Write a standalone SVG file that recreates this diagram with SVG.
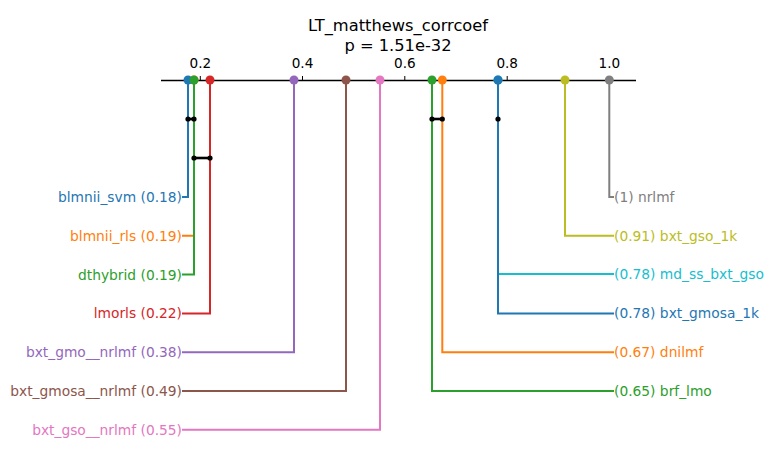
<svg xmlns="http://www.w3.org/2000/svg" width="774" height="462" viewBox="0 0 774 462">
<style>
text{font-family:"DejaVu Sans","Liberation Sans",sans-serif;}
.t{font-size:16.3px;fill:#000;text-anchor:middle;}
.tk{font-size:13.6px;fill:#000;text-anchor:middle;}
.l{font-size:13.8px;text-anchor:end;}
.r{font-size:13.8px;text-anchor:start;}
.ln{fill:none;stroke-width:2;}
.cd{stroke:#000;stroke-width:2.6;fill:none;}
</style>
<rect width="774" height="462" fill="#fff"/>
<g id="title">
<text class="t" x="398" y="31">LT_matthews_corrcoef</text>
<text class="t" x="398" y="51">p = 1.51e-32</text>
</g>
<g id="axis">
<line x1="161" y1="80.5" x2="636" y2="80.5" stroke="#000" stroke-width="1.3"/>
<g stroke="#000" stroke-width="1">
<line x1="200.3" y1="76" x2="200.3" y2="80"/>
<line x1="302.5" y1="76" x2="302.5" y2="80"/>
<line x1="404.8" y1="76" x2="404.8" y2="80"/>
<line x1="507.2" y1="76" x2="507.2" y2="80"/>
<line x1="609.4" y1="76" x2="609.4" y2="80"/>
</g>
<text class="tk" x="200.3" y="68">0.2</text>
<text class="tk" x="302.5" y="68">0.4</text>
<text class="tk" x="404.8" y="68">0.6</text>
<text class="tk" x="507.2" y="68">0.8</text>
<text class="tk" x="609.4" y="68">1.0</text>
</g>
<g id="md_ss_bxt_gso">
<polyline class="ln" stroke="#17becf" points="498,80 498,274 614,274"/>
<circle cx="498" cy="80" r="4.5" fill="#17becf"/>
<text class="r" x="614" y="279" fill="#17becf">(0.78) md_ss_bxt_gso</text>
</g>
<g id="blmnii_rls">
<polyline class="ln" stroke="#ff7f0e" points="194,80 194,235.8 182,235.8"/>
<circle cx="194" cy="80" r="4.5" fill="#ff7f0e"/>
<text class="l" x="182" y="240.8" fill="#ff7f0e">blmnii_rls (0.19)</text>
</g>
<g id="blmnii_svm">
<polyline class="ln" stroke="#1f77b4" points="188,80 188,196.9 182,196.9"/>
<circle cx="188" cy="80" r="4.5" fill="#1f77b4"/>
<text class="l" x="182" y="201.9" fill="#1f77b4">blmnii_svm (0.18)</text>
</g>
<g id="dthybrid">
<polyline class="ln" stroke="#2ca02c" points="194,80 194,274.6 182,274.6"/>
<circle cx="194" cy="80" r="4.5" fill="#2ca02c"/>
<text class="l" x="182" y="279.6" fill="#2ca02c">dthybrid (0.19)</text>
</g>
<g id="lmorls">
<polyline class="ln" stroke="#d62728" points="210,80 210,313.4 182,313.4"/>
<circle cx="210" cy="80" r="4.5" fill="#d62728"/>
<text class="l" x="182" y="318.4" fill="#d62728">lmorls (0.22)</text>
</g>
<g id="bxt_gmo__nrlmf">
<polyline class="ln" stroke="#9467bd" points="294,80 294,352.2 182,352.2"/>
<circle cx="294" cy="80" r="4.5" fill="#9467bd"/>
<text class="l" x="182" y="357.2" fill="#9467bd">bxt_gmo__nrlmf (0.38)</text>
</g>
<g id="bxt_gmosa__nrlmf">
<polyline class="ln" stroke="#8c564b" points="346,80 346,391 182,391"/>
<circle cx="346" cy="80" r="4.5" fill="#8c564b"/>
<text class="l" x="182" y="396" fill="#8c564b">bxt_gmosa__nrlmf (0.49)</text>
</g>
<g id="bxt_gso__nrlmf">
<polyline class="ln" stroke="#e377c2" points="380,80 380,429.8 182,429.8"/>
<circle cx="380" cy="80" r="4.5" fill="#e377c2"/>
<text class="l" x="182" y="434.8" fill="#e377c2">bxt_gso__nrlmf (0.55)</text>
</g>
<g id="brf_lmo">
<polyline class="ln" stroke="#2ca02c" points="432,80 432,391 614,391"/>
<circle cx="432" cy="80" r="4.5" fill="#2ca02c"/>
<text class="r" x="614" y="396" fill="#2ca02c">(0.65) brf_lmo</text>
</g>
<g id="dnilmf">
<polyline class="ln" stroke="#ff7f0e" points="442.3,80 442.3,352.2 614,352.2"/>
<circle cx="442.3" cy="80" r="4.5" fill="#ff7f0e"/>
<text class="r" x="614" y="357.2" fill="#ff7f0e">(0.67) dnilmf</text>
</g>
<g id="bxt_gmosa_1k">
<polyline class="ln" stroke="#1f77b4" points="498,80 498,313.4 614,313.4"/>
<circle cx="498" cy="80" r="4.5" fill="#1f77b4"/>
<text class="r" x="614" y="318.4" fill="#1f77b4">(0.78) bxt_gmosa_1k</text>
</g>
<g id="bxt_gso_1k">
<polyline class="ln" stroke="#bcbd22" points="565,80 565,235.8 614,235.8"/>
<circle cx="565" cy="80" r="4.5" fill="#bcbd22"/>
<text class="r" x="614" y="240.8" fill="#bcbd22">(0.91) bxt_gso_1k</text>
</g>
<g id="nrlmf">
<polyline class="ln" stroke="#7f7f7f" points="609.3,80 609.3,196.9 614,196.9"/>
<circle cx="609.3" cy="80" r="4.5" fill="#7f7f7f"/>
<text class="r" x="614" y="201.9" fill="#7f7f7f">(1) nrlmf</text>
</g>
<g id="connectors">
<line class="cd" x1="188" y1="119" x2="194" y2="119"/>
<line class="cd" x1="432" y1="119" x2="442.3" y2="119"/>
<line class="cd" x1="194" y1="158" x2="210" y2="158"/>
<g fill="#000">
<circle cx="188" cy="119" r="2.6"/>
<circle cx="194" cy="119" r="2.6"/>
<circle cx="432" cy="119" r="2.6"/>
<circle cx="442.3" cy="119" r="2.6"/>
<circle cx="498" cy="119" r="2.6"/>
<circle cx="194" cy="158" r="2.6"/>
<circle cx="210" cy="158" r="2.6"/>
</g>
</g>
</svg>
